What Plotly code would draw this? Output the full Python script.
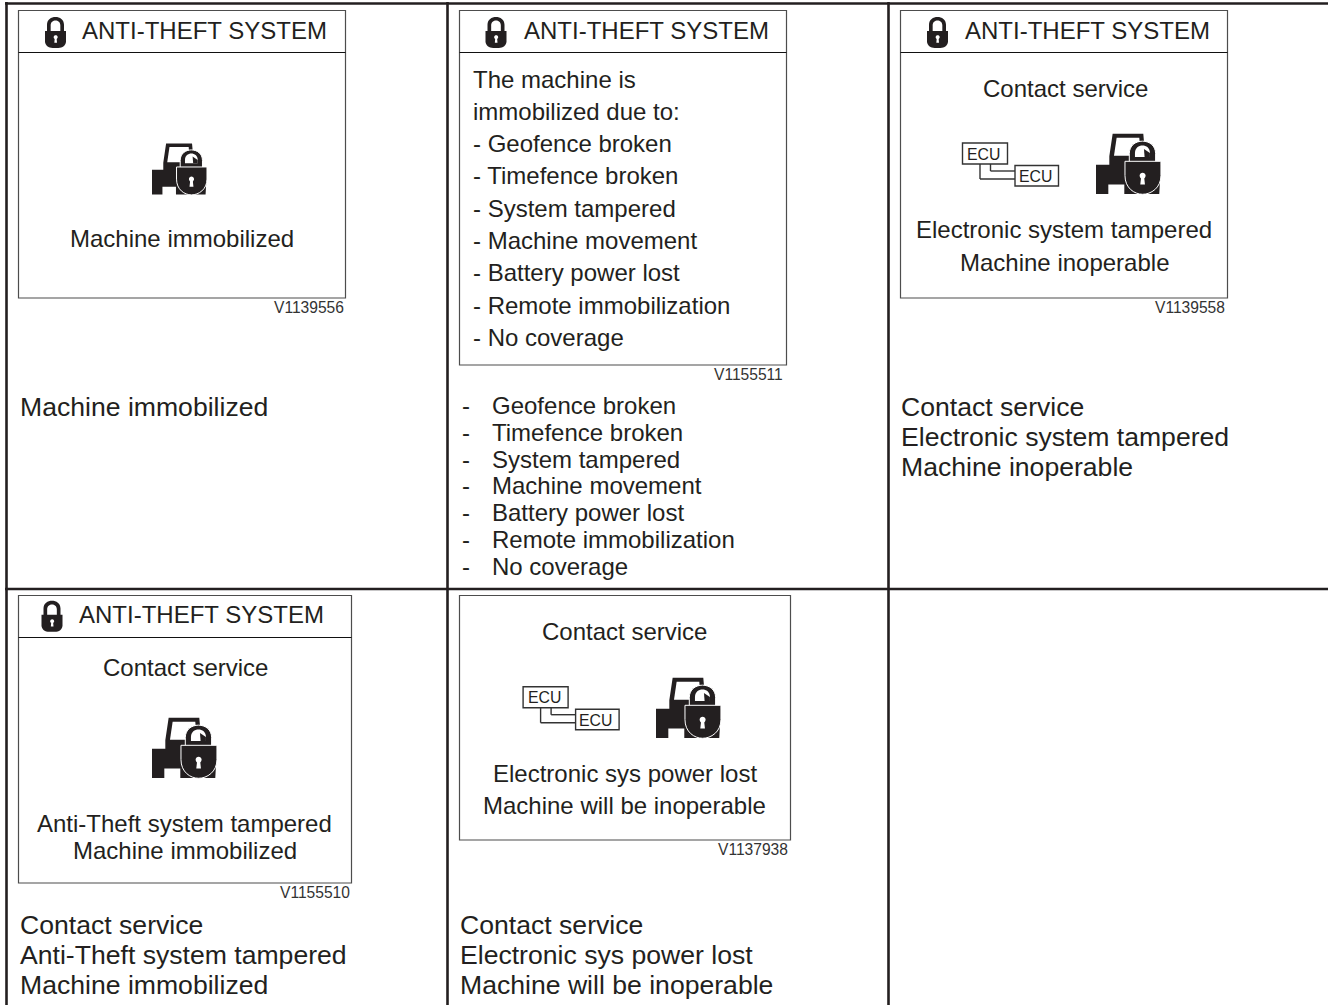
import plotly.graph_objects as go

W, H = 1328, 1005
INK = "#231f20"
FONT = "Liberation Sans, Arial, sans-serif"

# grid rules of the table
grid_h = [(5, 3.5, 1328, 3.5), (5, 589, 1328, 589)]
grid_v = [(6.5, 2, 6.5, 1005), (447.5, 2, 447.5, 1005), (888.5, 2, 888.5, 1005)]

# panels: x0, y0, x1, y1, header rule y (None = no header)
panels = [
    (18.5, 10.5, 345.5, 298, 52.5),
    (459.5, 10.5, 786.5, 365, 52.5),
    (900.5, 10.5, 1227.5, 298, 52.5),
    (18.5, 595.5, 351.5, 883, 637.5),
    (459.5, 595.5, 790.5, 840, None),
]

# header: title x, y, lock x, lock y
headers = [(82, 30, 45, 16.7), (524, 30, 485.5, 16.7), (965, 30, 927, 16.7), (79, 614.5, 41.5, 600.5)]
HEADER_TEXT = "ANTI-THEFT SYSTEM"

# machine icon: x, y, scale
machines = [(152, 143, 0.282), (1096, 133, 0.333), (152, 717, 0.333), (656, 677, 0.333)]

# ECU diagrams offset
ecus = [(0, 0), (-439.4, 543.7)]

# texts: string, x, y, size
centre_texts = [
    ("Machine immobilized", 182, 238, 24),
    ("Contact service", 1065.5, 88, 24),
    ("Electronic system tampered", 1064, 229, 24),
    ("Machine inoperable", 1064, 262, 24),
    ("Contact service", 185.5, 667, 24),
    ("Anti-Theft system tampered", 184, 823, 24),
    ("Machine immobilized", 184.5, 850, 24),
    ("Contact service", 624.5, 631, 24),
    ("Electronic sys power lost", 625, 773, 24),
    ("Machine will be inoperable", 624, 805, 24),
]
left_texts = [
    ("The machine is", 472.5, 79, 24),
    ("immobilized due to:", 472.5, 111, 24),
    ("- Geofence broken", 472.5, 143, 24),
    ("- Timefence broken", 472.5, 175, 24),
    ("- System tampered", 472.5, 208, 24),
    ("- Machine movement", 472.5, 240, 24),
    ("- Battery power lost", 472.5, 272, 24),
    ("- Remote immobilization", 472.5, 305, 24),
    ("- No coverage", 472.5, 337, 24),
    ("Machine immobilized", 20, 407, 26.6),
    ("Contact service", 901, 407, 26.6),
    ("Electronic system tampered", 901, 437, 26.6),
    ("Machine inoperable", 901, 467, 26.6),
    ("Contact service", 20, 925, 26.6),
    ("Anti-Theft system tampered", 20, 955, 26.6),
    ("Machine immobilized", 20, 985, 26.6),
    ("Contact service", 460, 925, 26.6),
    ("Electronic sys power lost", 460, 955, 26.6),
    ("Machine will be inoperable", 460, 985, 26.6),
]
bullet_items = ["Geofence broken", "Timefence broken", "System tampered", "Machine movement",
                "Battery power lost", "Remote immobilization", "No coverage"]
bullet_y = [405.5, 432.5, 459.5, 485.5, 512.5, 539.5, 566.5]
codes = [("V1139556", 344, 307.5), ("V1155511", 783, 374.5), ("V1139558", 1225, 307.5),
         ("V1155510", 350, 892.5), ("V1137938", 788, 849.5)]

shapes, annotations = [], []


def rule(x0, y0, x1, y1, color=INK, width=2.6):
    shapes.append(dict(type="line", xref="x", yref="y", x0=x0, y0=y0, x1=x1, y1=y1,
                       line=dict(color=color, width=width)))


def rect(x0, y0, x1, y1, color="#4d4d4d", width=1.2):
    shapes.append(dict(type="rect", xref="x", yref="y", x0=x0, y0=y0, x1=x1, y1=y1,
                       line=dict(color=color, width=width), fillcolor="rgba(0,0,0,0)"))


def path(cmds, ox, oy, s, fill=INK, line=None, lw=0):
    parts = []
    for c in cmds:
        op, pts = c[0], c[1:]
        coords = " ".join(f"{ox + pts[i] * s:.2f},{oy + pts[i + 1] * s:.2f}" for i in range(0, len(pts), 2))
        parts.append(f"{op} {coords}".strip())
    shapes.append(dict(type="path", xref="x", yref="y", path=" ".join(parts), fillcolor=fill,
                       line=dict(color=line or fill, width=lw)))


def text(s, x, y, size, anchor="center", color=INK):
    annotations.append(dict(text=s, x=x, y=y, xref="x", yref="y", showarrow=False, xanchor=anchor,
                            yanchor="middle", borderpad=0, borderwidth=0,
                            font=dict(family=FONT, size=size, color=color)))


TRACTOR = [("M", 50, 2), ("L", 142, 2), ("L", 150, 95), ("L", 195, 95), ("L", 190, 183), ("L", 85, 183),
           ("L", 85, 155), ("L", 37, 155), ("L", 37, 183), ("L", 0, 183), ("L", 0, 95), ("L", 40, 95),
           ("L", 40, 70), ("Z",)]
CAB_WINDOW = [("M", 62, 14), ("L", 130, 14), ("L", 135, 68), ("L", 54, 68), ("Z",)]
LOCK_BODY = [("M", 87, 85), ("L", 195, 85), ("L", 195, 128), ("C", 195, 165, 165, 184, 140, 184),
             ("C", 115, 184, 87, 165, 87, 128), ("Z",)]
LOCK_SHACKLE = [("M", 100, 92), ("L", 100, 62), ("C", 100, 12, 179, 12, 179, 62), ("L", 179, 92), ("Z",)]
LOCK_INNER = [("M", 117, 72), ("L", 117, 60), ("C", 117, 30, 162, 30, 162, 60), ("L", 162, 72), ("Z",)]
LOCK_DARK = [("M", 144, 48), ("L", 162, 60), ("L", 162, 72), ("L", 146, 72), ("Z",)]
KEY_HOLE = [("M", 131, 128), ("C", 131, 116, 149, 116, 149, 128), ("C", 149, 133, 146, 135, 145, 137),
            ("L", 147, 155), ("L", 133, 155), ("L", 135, 137), ("C", 134, 135, 131, 133, 131, 128), ("Z",)]


def machine(ox, oy, s):
    path(TRACTOR, ox, oy, s)
    path(CAB_WINDOW, ox, oy, s, fill="#ffffff")
    path(LOCK_SHACKLE, ox, oy, s, line="#ffffff", lw=1)
    path(LOCK_BODY, ox, oy, s, line="#ffffff", lw=1)
    path(LOCK_INNER, ox, oy, s, fill="#ffffff")
    path(LOCK_DARK, ox, oy, s)
    path(KEY_HOLE, ox, oy, s, fill="#ffffff")


SMALL_BODY = [("M", 0, 43), ("L", 63, 43), ("L", 63, 74), ("C", 63, 87, 52, 94, 40, 94), ("L", 23, 94),
              ("C", 11, 94, 0, 87, 0, 74), ("Z",)]
SMALL_SHACKLE = [("M", 6, 46), ("L", 6, 24), ("C", 6, -7, 57, -7, 57, 24), ("L", 57, 46), ("L", 46, 46),
                 ("L", 46, 26), ("C", 46, 7, 17, 7, 17, 26), ("L", 17, 46), ("Z",)]
SMALL_KEY = [("M", 26, 62), ("C", 26, 54, 38, 54, 38, 62), ("C", 38, 65, 36, 66, 35, 67), ("L", 36, 78),
             ("L", 28, 78), ("L", 29, 67), ("C", 28, 66, 26, 65, 26, 62), ("Z",)]


def small_lock(ox, oy):
    s = 1 / 3
    path(SMALL_BODY, ox, oy, s)
    path(SMALL_SHACKLE, ox, oy, s)
    path(SMALL_KEY, ox, oy, s, fill="#ffffff")


def ecu(dx, dy):
    rect(962.5 + dx, 143 + dy, 1007.5 + dx, 164 + dy, color="#333333", width=1.4)
    rect(1015 + dx, 165.5 + dy, 1058.5 + dx, 186 + dy, color="#333333", width=1.4)
    for pts in ([(980, 164), (980, 179), (1015, 179)], [(990.5, 164), (990.5, 171), (1015, 171)]):
        for a, b in zip(pts, pts[1:]):
            rule(a[0] + dx, a[1] + dy, b[0] + dx, b[1] + dy, color="#333333", width=1.4)
    text("ECU", 983.8 + dx, 154 + dy, 15.8)
    text("ECU", 1035.3 + dx, 176.5 + dy, 15.8)


for g in grid_h + grid_v:
    rule(*g)
for x0, y0, x1, y1, hy in panels:
    rect(x0, y0, x1, y1)
    if hy is not None:
        rule(x0, hy, x1, hy, color="#111111", width=1.2)
for tx, ty, lx, ly in headers:
    text(HEADER_TEXT, tx, ty, 24, anchor="left")
    small_lock(lx, ly)
for m in machines:
    machine(*m)
for e in ecus:
    ecu(*e)
for s, x, y, size in centre_texts:
    text(s, x, y, size)
for s, x, y, size in left_texts:
    text(s, x, y, size, anchor="left")
for s, y in zip(bullet_items, bullet_y):
    text("-", 462, y, 24, anchor="left")
    text(s, 492, y, 24, anchor="left")
for s, x, y in codes:
    text(s, x, y, 15.6, anchor="right", color="#333333")

fig = go.Figure()
fig.update_layout(
    width=W, height=H, margin=dict(l=0, r=0, t=0, b=0, pad=0),
    paper_bgcolor="#ffffff", plot_bgcolor="#ffffff", showlegend=False,
    xaxis=dict(range=[0, W], visible=False, fixedrange=True),
    yaxis=dict(range=[H, 0], visible=False, fixedrange=True),
    shapes=shapes, annotations=annotations,
)
fig.write_html("out.html", config=dict(displayModeBar=False),
               post_script="document.body.style.margin='0';document.body.style.overflow='hidden';")
